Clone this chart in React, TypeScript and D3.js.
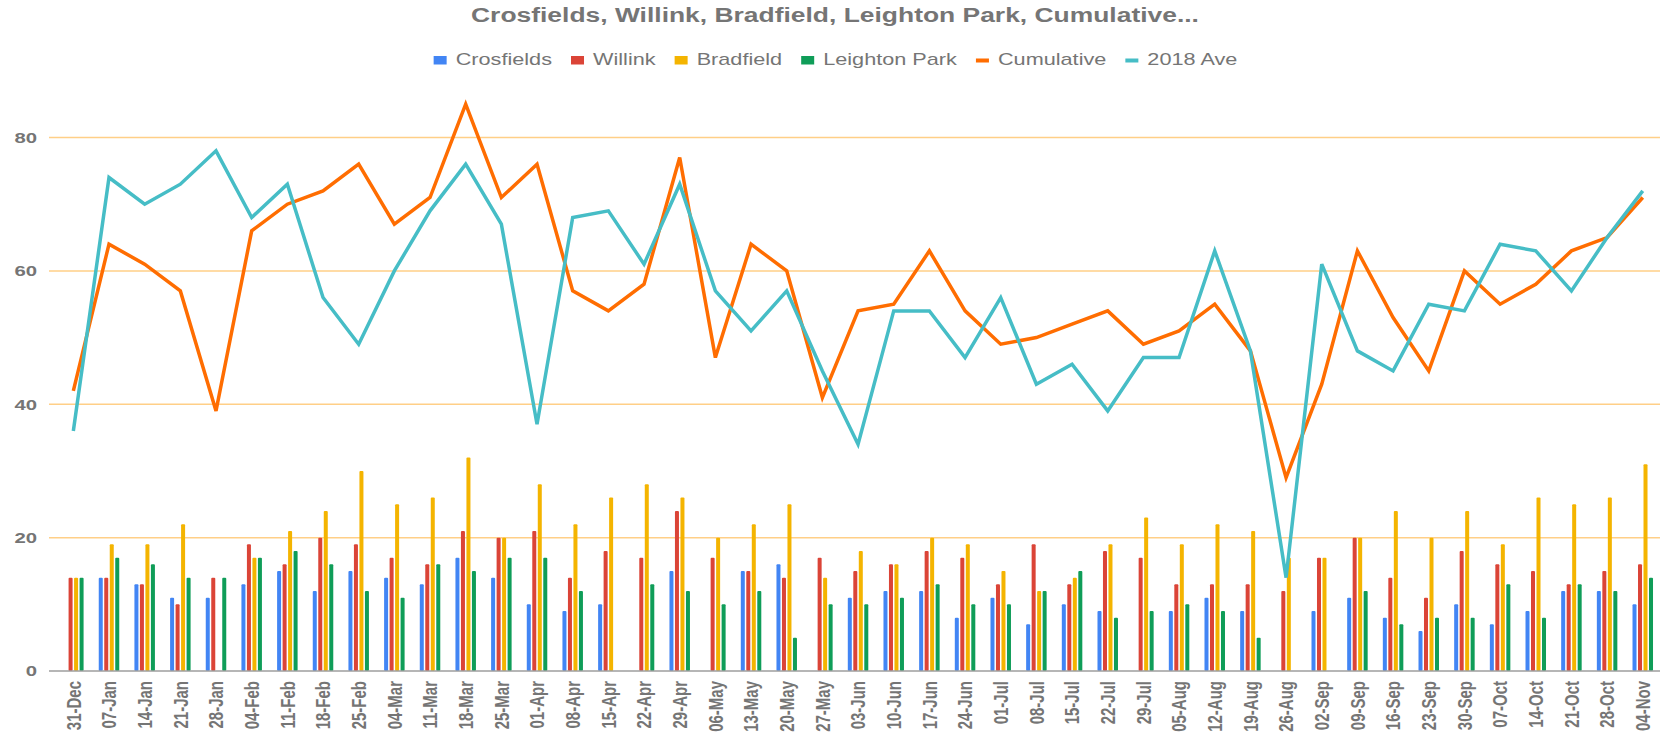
import React, { useEffect, useRef } from 'react';
import * as d3 from 'd3';

const categories = [
  '31-Dec', '07-Jan', '14-Jan', '21-Jan', '28-Jan', '04-Feb', '11-Feb', '18-Feb', '25-Feb', '04-Mar',
  '11-Mar', '18-Mar', '25-Mar', '01-Apr', '08-Apr', '15-Apr', '22-Apr', '29-Apr', '06-May', '13-May',
  '20-May', '27-May', '03-Jun', '10-Jun', '17-Jun', '24-Jun', '01-Jul', '08-Jul', '15-Jul', '22-Jul',
  '29-Jul', '05-Aug', '12-Aug', '19-Aug', '26-Aug', '02-Sep', '09-Sep', '16-Sep', '23-Sep', '30-Sep',
  '07-Oct', '14-Oct', '21-Oct', '28-Oct', '04-Nov',
];

const crosfields = [
  0, 14, 13, 11, 11, 13, 15, 12, 15, 14,
  13, 17, 14, 10, 9, 10, 0, 15, 0, 15,
  16, 0, 11, 12, 12, 8, 11, 7, 10, 9,
  0, 9, 11, 9, 0, 9, 11, 8, 6, 10,
  7, 9, 12, 12, 10,
];
const willink = [
  14, 14, 13, 10, 14, 19, 16, 20, 19, 17,
  16, 21, 20, 21, 14, 18, 17, 24, 17, 15,
  14, 17, 15, 16, 18, 17, 13, 19, 13, 18,
  17, 13, 13, 13, 12, 17, 20, 14, 11, 18,
  16, 15, 13, 15, 16,
];
const bradfield = [
  14, 19, 19, 22, 0, 17, 21, 24, 30, 25,
  26, 32, 20, 28, 22, 26, 28, 26, 20, 22,
  25, 14, 18, 16, 20, 19, 15, 12, 14, 19,
  23, 19, 22, 21, 17, 17, 20, 24, 20, 24,
  19, 26, 25, 26, 31,
];
const leightonPark = [
  14, 17, 16, 14, 14, 17, 18, 16, 12, 11,
  16, 15, 17, 17, 12, 0, 13, 12, 10, 12,
  5, 10, 10, 11, 13, 10, 10, 12, 15, 8,
  9, 10, 9, 5, 0, 0, 12, 7, 8, 8,
  13, 8, 13, 12, 14,
];
const cumulative = [
  42, 64, 61, 57, 39, 66, 70, 72, 76, 67,
  71, 85, 71, 76, 57, 54, 58, 77, 47, 64,
  60, 41, 54, 55, 63, 54, 49, 50, 52, 54,
  49, 51, 55, 48, 29, 43, 63, 53, 45, 60,
  55, 58, 63, 65, 71,
];
const ave2018 = [
  36, 74, 70, 73, 78, 68, 73, 56, 49, 60,
  69, 76, 67, 37, 68, 69, 61, 73, 57, 51,
  57, 45, 34, 54, 54, 47, 56, 43, 46, 39,
  47, 47, 63, 48, 14, 61, 48, 45, 55, 54,
  64, 63, 57, 65, 72,
];

const yTicks = [0, 20, 40, 60, 80];
const title = 'Crosfields, Willink, Bradfield, Leighton Park, Cumulative...';

const W = 1660;
const H = 737;
// the source picture is stretched sideways, so text gets the same stretch
const SX = 1.355;
const FONT = '"Liberation Sans", Arial, sans-serif';
const GREY = '#757575';

const App = () => {
  const svgRef = useRef<SVGSVGElement>(null);

  useEffect(() => {
    const svg = d3.select(svgRef.current);
    svg.selectAll('*').remove();

    const bars = [
      { name: 'Crosfields', values: crosfields, color: '#4285f4' },
      { name: 'Willink', values: willink, color: '#db4437' },
      { name: 'Bradfield', values: bradfield, color: '#f4b400' },
      { name: 'Leighton Park', values: leightonPark, color: '#0f9d58' },
    ];
    const lines = [
      { name: 'Cumulative', values: cumulative, color: '#ff6d01' },
      { name: '2018 Ave', values: ave2018, color: '#46bdc6' },
    ];

    const x = d3.scaleBand().domain(categories).range([55.5, 1660.6]);
    const cx = (c: string) => (x(c) as number) + x.bandwidth() / 2;
    const xSub = d3.scaleBand().domain(bars.map(b => b.name)).range([-10.25, 10.25]).paddingInner(0.27);
    const y = d3.scaleLinear().domain([0, 80]).range([671, 137.5]);

    // title
    svg.append('text')
      .attr('transform', `translate(835,22) scale(${SX},1)`)
      .attr('text-anchor', 'middle')
      .style('font-family', FONT).style('font-size', '19.5px').style('font-weight', 'bold')
      .attr('fill', GREY)
      .text(title);

    // legend
    const legendItems = [
      ...bars.map(b => ({ name: b.name, color: b.color, kind: 'bar' })),
      ...lines.map(l => ({ name: l.name, color: l.color, kind: 'line' })),
    ];
    const legend = svg.append('g');
    const items = legend.selectAll('g').data(legendItems).join('g');
    items.append('rect')
      .attr('x', 0)
      .attr('y', d => (d.kind === 'bar' ? 56 : 58.5))
      .attr('width', 13)
      .attr('height', d => (d.kind === 'bar' ? 8.5 : 4))
      .attr('fill', d => d.color);
    const texts = items.append('text')
      .attr('transform', `translate(22,65) scale(${SX},1)`)
      .style('font-family', FONT).style('font-size', '16px')
      .attr('fill', GREY)
      .text(d => d.name);
    const widths: number[] = [];
    texts.each(function () { widths.push((this as SVGTextElement).getComputedTextLength() * SX); });
    const itemW = widths.map(w => 22 + w);
    const gap = 19;
    const total = d3.sum(itemW) + gap * (itemW.length - 1);
    let pos = 835.5 - total / 2;
    items.attr('transform', (d, i) => {
      const t = `translate(${pos},0)`;
      pos += itemW[i] + gap;
      return t;
    });

    // gridlines
    svg.append('g').selectAll('line').data(yTicks.filter(t => t > 0)).join('line')
      .attr('x1', 49).attr('x2', W)
      .attr('y1', d => y(d)).attr('y2', d => y(d))
      .attr('stroke', '#ffcf87').attr('stroke-width', 1.5);

    // y labels
    svg.append('g').selectAll('text').data(yTicks).join('text')
      .attr('transform', d => `translate(37,${y(d)}) scale(${SX},1)`)
      .attr('dy', '0.36em')
      .attr('text-anchor', 'end')
      .style('font-family', FONT).style('font-size', '15px').style('font-weight', 'bold')
      .attr('fill', GREY)
      .text(d => d);

    // bars
    bars.forEach(s => {
      svg.append('g').selectAll('rect').data(s.values).join('rect')
        .attr('x', (d, i) => cx(categories[i]) + (xSub(s.name) as number))
        .attr('width', xSub.bandwidth())
        .attr('y', d => y(d))
        .attr('height', d => y(0) - y(d))
        .attr('rx', 1)
        .attr('fill', s.color);
    });

    // baseline
    svg.append('line')
      .attr('x1', 49).attr('x2', W)
      .attr('y1', y(0)).attr('y2', y(0))
      .attr('stroke', '#9e9e9e').attr('stroke-width', 1.5);

    // lines
    const lineGen = d3.line<number>()
      .x((d, i) => cx(categories[i]))
      .y(d => y(d));
    lines.forEach(l => {
      svg.append('path')
        .datum(l.values)
        .attr('d', lineGen)
        .attr('fill', 'none')
        .attr('stroke', l.color)
        .attr('stroke-width', 3.5)
        .attr('stroke-linejoin', 'miter');
    });

    // x labels
    svg.append('g').selectAll('text').data(categories).join('text')
      .attr('transform', d => `translate(${cx(d)},681) scale(${SX},1) rotate(-90)`)
      .attr('dy', '0.36em')
      .attr('text-anchor', 'end')
      .style('font-family', FONT).style('font-size', '15px').style('font-weight', 'bold')
      .attr('fill', GREY)
      .text(d => d);
  }, []);

  return (
    <svg
      ref={svgRef}
      width={W}
      height={H}
      style={{ position: 'absolute', left: 0, top: 0, background: '#fff' }}
    />
  );
};

export default App;
